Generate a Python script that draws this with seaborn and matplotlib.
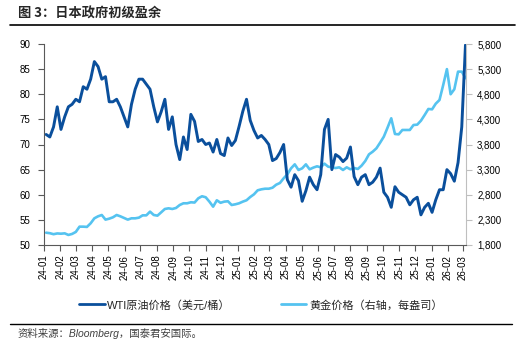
import matplotlib
matplotlib.use("Agg")
import numpy as np
import pandas as pd
import matplotlib.pyplot as plt
import matplotlib.dates as mdates
from matplotlib.lines import Line2D
from matplotlib.ticker import FuncFormatter, MultipleLocator
import seaborn as sns

sns.set_style("ticks")
plt.rcParams["font.family"] = ["Liberation Sans", "Noto Sans CJK SC"]

# ---------------- data (weekly readings, first week ending 2024-01-05) ----------------
week_start = "2024-01-05"

wti = [
    72.0, 71.5, 73.5, 77.5, 73.0, 75.5, 77.5, 78.0, 79.0, 78.5,
    81.5, 81.0, 83.0, 86.5, 85.5, 83.0, 83.5, 78.5, 78.5, 79.0,
    77.5, 75.5, 73.5, 78.0, 81.0, 83.0, 83.0, 82.0, 81.0, 77.5,
    74.5, 76.5, 79.0, 73.0, 75.5, 70.0, 67.0, 71.5,
    69.0, 76.0, 74.6, 70.6, 71.0, 70.0, 70.3, 68.5, 71.0, 68.2,
    67.8, 71.3, 69.8, 70.8, 73.6, 76.6, 79.0, 74.8, 72.8, 71.3,
    71.8, 71.0, 70.0, 66.8, 67.2, 68.4, 70.0, 63.0,
    61.5, 64.0, 62.8, 58.7, 60.8, 63.5, 62.0, 61.0, 64.0, 73.0,
    75.0, 65.0, 68.0, 67.5, 66.6, 67.3, 69.5, 63.6, 62.0, 63.5,
    64.0, 62.0, 62.5, 63.5, 65.3, 60.5, 59.5, 57.5, 61.6, 60.5,
    60.0, 59.5, 58.0, 59.0, 59.5, 56.0, 57.5, 58.3, 56.5, 59.0,
    61.0, 61.0, 65.0, 64.2, 62.7, 66.4, 73.5, 89.8,
]

gold = [
    2045, 2035, 2015, 2030, 2025, 2032, 2000, 2020, 2060, 2165,
    2165, 2160, 2232, 2331, 2371, 2397, 2305, 2324, 2351, 2397,
    2371, 2338, 2305, 2331, 2331, 2344, 2390, 2390, 2464, 2397,
    2384, 2450, 2517, 2530, 2517, 2537, 2596, 2630,
    2630, 2650, 2645, 2729, 2770, 2750, 2663, 2563, 2690, 2640,
    2663, 2670, 2596, 2610, 2630, 2663, 2690, 2755, 2808, 2888,
    2908, 2920, 2920, 2940, 3000, 3034, 3127, 3206, 3326, 3405,
    3293, 3326, 3405, 3306, 3340, 3366,
    3346, 3419, 3359, 3346, 3332, 3346, 3293, 3346, 3306, 3332,
    3313, 3379, 3472, 3604, 3657, 3724, 3837, 3956, 4135, 4321,
    4009, 4002, 4089, 4089, 4089, 4188, 4195, 4274, 4387, 4507,
    4500, 4613, 4686, 4984, 5300, 4800, 4900, 5250, 5250, 5120,
]
assert len(wti) == len(gold)

left_ticks = [50, 55, 60, 65, 70, 75, 80, 85, 90]
right_ticks = [1800, 2300, 2800, 3300, 3800, 4300, 4800, 5300, 5800]
month_ticks = pd.date_range("2024-01-01", "2026-03-01", freq="MS")

title = "图 3：日本政府初级盈余"
label_wti = "WTI原油价格（美元/桶）"
label_gold = "黄金价格（右轴，每盎司）"
source = "资料来源：Bloomberg，国泰君安国际。"

WTI_C = "#0A4F9C"
GOLD_C = "#55C3F0"

df = pd.DataFrame({
    "date": pd.date_range(week_start, periods=len(wti), freq="7D"),
    "wti": wti,
    "gold": gold,
})

# ---------------- figure ----------------
W, H = 525, 345
fig = plt.figure(figsize=(W / 100, H / 100), dpi=100)
ax = fig.add_axes([44 / W, 1 - 245 / H, (466 - 44) / W, (245 - 44) / H])
ax2 = ax.twinx()

sns.lineplot(data=df, x="date", y="gold", ax=ax2, color=GOLD_C, lw=1.9, legend=False)
sns.lineplot(data=df, x="date", y="wti", ax=ax, color=WTI_C, lw=2.1, legend=False)
ax.set_zorder(ax2.get_zorder() + 1)
ax.patch.set_visible(False)

ax.set_xlim(pd.Timestamp("2024-01-01"), pd.Timestamp("2026-03-07"))
ax.set_ylim(50, 90)
ax2.set_ylim(1800, 5800)
ax.set_yticks(left_ticks)
ax2.set_yticks(right_ticks)
ax2.yaxis.set_major_formatter(FuncFormatter(lambda v, p: f"{v:,.0f}"))
ax.set_xticks(month_ticks)
ax.xaxis.set_major_formatter(mdates.DateFormatter("%y-%m"))
for a in (ax, ax2):
    a.set_xlabel("")
    a.set_ylabel("")

dark = "#595959"
ax.spines["top"].set_visible(False)
ax.spines["right"].set_visible(False)
ax.spines["left"].set_color(dark)
ax.spines["bottom"].set_color(dark)
for s in ("top", "left", "bottom"):
    ax2.spines[s].set_visible(False)
ax2.spines["right"].set_color("#BFBFBF")

ax.tick_params(axis="y", direction="out", length=4, width=0.8, color=dark,
               labelsize=7, pad=6, labelcolor="black")
ax.tick_params(axis="x", direction="out", length=4, width=0.8, color=dark,
               labelsize=7, pad=3, labelrotation=90, labelcolor="black")
ax2.tick_params(axis="y", direction="out", length=4, width=0.8, color="#BFBFBF",
                labelsize=7, pad=4, labelcolor="black")

# legend
handles = [Line2D([], [], color=WTI_C, lw=2), Line2D([], [], color=GOLD_C, lw=2)]
fig.legend(handles, [label_wti, label_gold], loc="center",
           bbox_to_anchor=(0.497, 1 - 305 / H), ncol=2, frameon=False,
           fontsize=8, handlelength=2.3, handletextpad=0.25, columnspacing=4.5)

# title, rules, source
fig.text(18 / W, 1 - 14 / H, title, fontsize=9.5, fontweight="bold",
         ha="left", va="center", family=["Noto Sans CJK SC", "DejaVu Sans"])
fig.add_artist(Line2D([10 / W, 515 / W], [1 - 24.5 / H] * 2, color="black", lw=1.2))
fig.add_artist(Line2D([10 / W, 512 / W], [1 - 324 / H] * 2, color="black", lw=1.0))
fig.text(18 / W, 1 - 333 / H, source, fontsize=7.5, style="italic", color="#404040",
         ha="left", va="center")

fig.savefig("out.png", dpi=100)
